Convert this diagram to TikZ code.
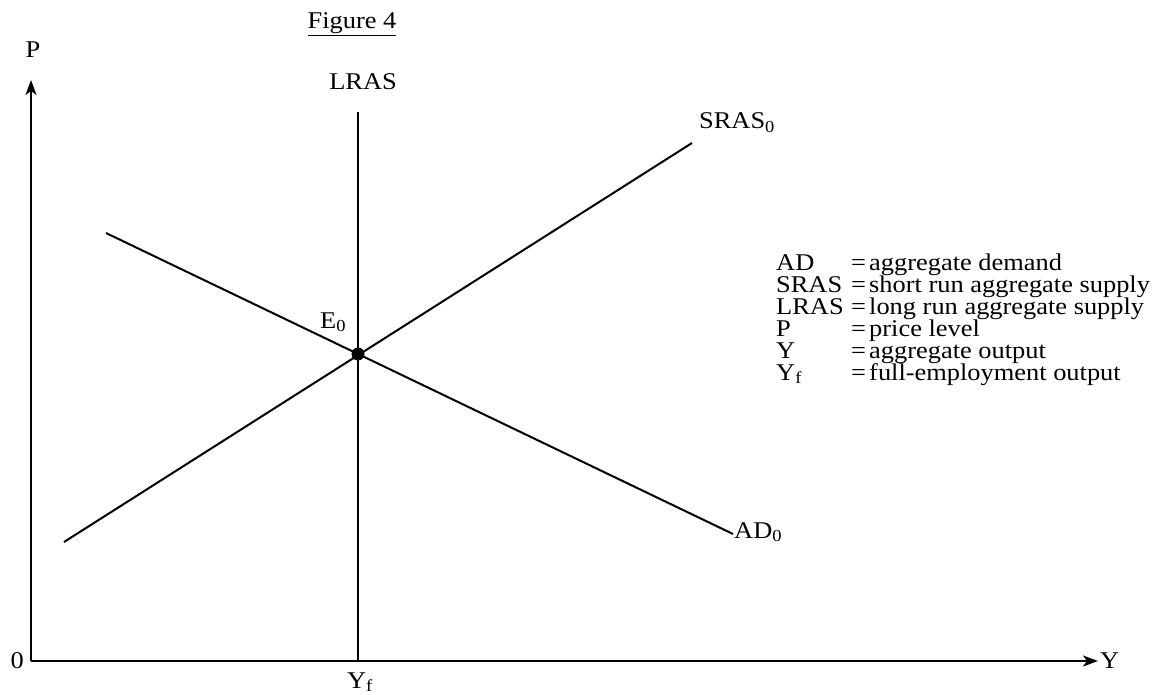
\documentclass[tikz,border=0pt]{standalone}
\usepackage{fontspec}
\usepackage{graphicx}
\setmainfont{Liberation Serif}
\usetikzlibrary{arrows.meta}
\newcommand\hsc[1]{\scalebox{1.1}[1]{#1}}
\begin{document}
\begin{tikzpicture}[x=1pt,y=-1pt,
  txt/.style={inner sep=0pt,font=\fontsize{24}{22}\selectfont},
  curve/.style={line width=2pt},
  axis/.style={line width=2.2pt,-{Stealth[length=15pt,width=11pt,inset=4pt]}},
  lg/.style={txt,anchor=base west,text height=16pt,text depth=4pt}]
\useasboundingbox (0,0) rectangle (1154,695);
% coordinates
\coordinate (O) at (31,661);
\coordinate (ytop) at (31,80);
\coordinate (xend) at (1098,661);
\coordinate (lrasT) at (358,112);
\coordinate (lrasB) at (358,661);
\coordinate (srasA) at (64,542);
\coordinate (srasB) at (692,143);
\coordinate (adA) at (106,233);
\coordinate (adB) at (733,534);
% axes
\draw[axis] (O) -- (ytop);
\draw[axis] (O) -- (xend);
% curves
\draw[curve] (lrasB) -- (lrasT);
\draw[curve] (srasA) -- (srasB);
\draw[curve] (adA) -- (adB);
\node[circle,fill=black,inner sep=0pt,minimum size=13pt] (E) at (358,354) {};
% labels
\node[txt,anchor=base] (title) at (352,29) {\hsc{\underline{Figure 4}}};
\node[txt,anchor=base] (Plab) at (33,58) {\hsc{P}};
\node[txt,anchor=base] (LRASlab) at (363,90) {\hsc{LRAS}};
\node[txt,anchor=base west] (SRASlab) at (699,129) {\hsc{SRAS\textsubscript{0}}};
\node[txt,anchor=base west] (E0lab) at (320,328) {\hsc{E\textsubscript{0}}};
\node[txt,anchor=base west] (AD0lab) at (734,538) {\hsc{AD\textsubscript{0}}};
\node[txt,anchor=base east] (zero) at (24,668) {\hsc{0}};
\node[txt,anchor=base] (Yflab) at (360,688) {\hsc{Y\textsubscript{f}}};
\node[txt,anchor=west] (Ylab) at (1100,661) {\hsc{Y}};
% legend
\foreach \i/\l/\d in {0/AD/aggregate demand,1/SRAS/short run aggregate supply,2/LRAS/long run aggregate supply,3/P/price level,4/Y/aggregate output,5/Y\textsubscript{f}/full-employment output}{
  \node[lg] (lk\i) at (776,270+22*\i) {\hsc{\l}};
  \node[lg] (le\i) at (851,270+22*\i) {\hsc{=}};
  \node[lg] (ld\i) at (869,270+22*\i) {\hsc{\d}};
}
\end{tikzpicture}
\end{document}
